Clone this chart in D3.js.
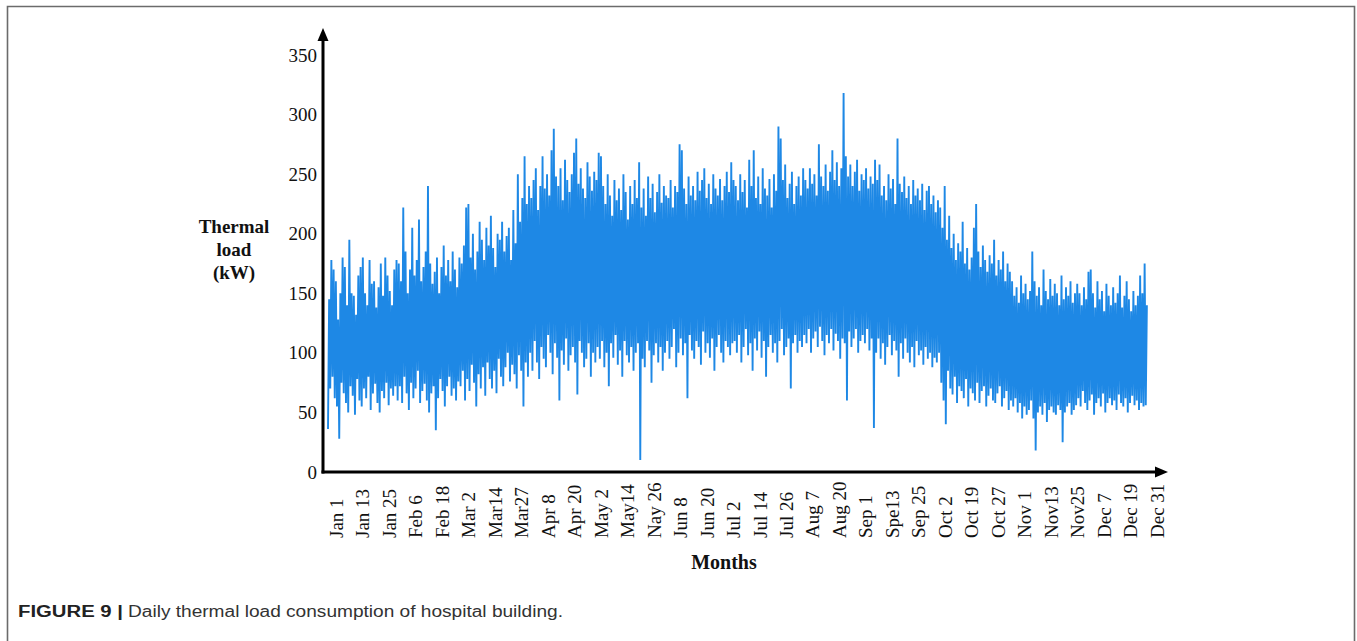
<!DOCTYPE html>
<html>
<head>
<meta charset="utf-8">
<script src="https://cdn.jsdelivr.net/npm/d3@7"></script>
<style>
  html, body { margin: 0; padding: 0; background: #fff; }
  svg { display: block; }
</style>
</head>
<body>
<svg id="chart" width="1357" height="641"></svg>
<script>
// Daily peak and trough of the hospital thermal load (kW), one entry per day, Jan 1 .. Dec 31
const dailyHigh = [
  // Jan
  145,178,170,160,128,150,180,172,140,195,150,148,132,165,172,180,150,140,178,158,160,138,155,175,148,180,165,152,140,170,178,
  // Feb
  175,160,222,185,150,170,205,165,178,212,160,172,185,240,175,158,168,180,150,172,190,165,178,160,185,170,155,180,
  // Mar
  175,190,222,225,180,200,170,185,210,195,178,205,190,215,188,172,200,195,210,185,198,205,178,220,192,250,210,230,265,225,240,
  // Apr
  230,245,255,220,240,265,238,250,232,270,288,248,240,255,228,262,245,235,250,268,280,242,255,238,230,260,248,236,252,245,
  // May
  268,265,240,225,250,232,215,245,228,238,220,250,235,212,240,225,245,230,260,222,238,215,248,230,242,218,235,250,226,240,232,
  // Jun
  230,245,222,240,235,275,270,238,225,248,232,240,228,252,236,245,255,230,242,225,250,238,232,246,228,240,252,235,260,245,
  // Jul
  240,228,250,235,245,222,262,240,270,230,248,225,255,238,232,246,222,250,236,290,280,245,258,230,242,252,225,240,248,232,255,
  // Aug
  245,238,255,242,250,232,275,248,240,258,236,252,270,245,260,240,255,318,265,248,258,240,252,262,236,250,245,255,238,248,242,
  // Sep
  262,245,258,232,240,228,250,238,246,225,280,242,235,248,230,240,225,245,232,238,228,242,220,236,240,225,232,218,228,222,
  // Oct
  205,240,195,215,188,200,178,192,185,210,175,188,170,180,205,225,185,172,190,178,168,182,175,195,165,178,170,185,160,175,168,
  // Nov
  160,148,155,142,165,150,158,145,152,185,160,148,155,140,170,152,145,162,148,158,150,140,165,145,155,148,160,142,150,158,
  // Dec
  150,140,155,145,168,170,150,138,160,145,152,135,158,148,140,155,142,150,165,138,148,160,145,135,152,140,148,165,150,175,140
];

const dailyLow = [
  // Jan
  36,70,80,62,55,28,75,66,58,50,72,64,48,78,60,55,70,62,80,52,66,74,58,50,68,62,75,56,70,64,72,
  // Feb
  60,72,58,80,66,52,75,62,70,85,58,68,74,60,50,66,72,35,62,78,68,55,72,80,64,70,60,76,
  // Mar
  72,85,60,78,68,90,75,55,82,70,88,64,92,78,70,85,66,95,80,72,88,100,76,90,82,70,98,85,55,92,80,
  // Apr
  100,85,110,92,78,105,95,88,115,100,82,108,96,60,102,90,112,85,98,105,92,65,110,100,88,95,108,80,100,92,
  // May
  105,95,110,88,100,72,108,96,115,90,102,80,110,98,92,105,85,100,108,10,95,88,110,102,75,98,108,92,105,85,100,
  // Jun
  110,95,105,120,88,100,112,98,108,62,115,102,95,110,105,90,118,100,108,96,112,85,105,115,100,92,110,105,98,108,
  // Jul
  110,100,115,92,105,120,98,108,85,112,102,118,96,110,80,105,115,100,108,92,110,120,98,105,112,70,108,115,100,110,105,
  // Aug
  115,108,120,100,112,118,105,122,110,98,115,108,120,102,116,110,95,112,108,60,118,105,112,120,100,110,115,108,120,102,112,
  // Sep
  37,100,112,95,108,90,105,115,98,110,102,80,108,95,112,100,92,105,88,110,98,102,90,105,95,100,88,96,92,100,
  // Oct
  75,60,40,85,70,65,80,58,72,68,62,78,55,70,66,60,75,58,68,72,55,64,70,60,58,66,72,55,62,68,52,
  // Nov
  60,55,62,50,58,45,55,48,52,60,45,18,50,55,48,58,42,52,55,50,48,56,52,25,50,55,58,48,52,56,
  // Dec
  62,55,68,58,52,60,65,48,58,62,55,66,50,58,62,56,60,52,65,58,55,62,50,58,64,56,60,52,58,55,56
];

const dateLabels = [
  "Jan 1","Jan 13","Jan 25","Feb 6","Feb 18","Mar 2","Mar14","Mar27","Apr 8","Apr 20",
  "May 2","May14","Nay 26","Jun 8","Jun 20","Jul 2","Jul 14","Jul 26","Aug 7","Aug 20",
  "Sep 1","Spe13","Sep 25","Oct 2","Oct 19","Oct 27","Nov 1","Nov13","Nov25","Dec 7",
  "Dec 19","Dec 31"
];

const loadTicks = [0, 50, 100, 150, 200, 250, 300, 350];

const svg = d3.select("#chart");
const serif = "'Liberation Serif', 'Times New Roman', serif";
const sans = "'Liberation Sans', Arial, sans-serif";

// Outer figure frame
svg.append("path")
  .attr("d", "M7.5,641 V6.5 H1354.5 V641")
  .attr("fill", "none")
  .attr("stroke", "#6b6b6b")
  .attr("stroke-width", 1.6);

// Scales
const originX = 323, originY = 472;
const x = d3.scaleLinear().domain([0, dailyHigh.length]).range([328, 1148]);
const y = d3.scaleLinear().domain([0, 350]).range([originY, 55]);
const xLabels = d3.scalePoint().domain(dateLabels).range([336, 1157]);

// Alternating trough / peak for each day traces the daily swing
const points = [];
dailyHigh.forEach((h, i) => {
  points.push([i, dailyLow[i]]);
  points.push([i + 0.5, h]);
});

svg.append("path")
  .datum(points)
  .attr("fill", "none")
  .attr("stroke", "#1e88e5")
  .attr("stroke-width", 1.9)
  .attr("stroke-linejoin", "bevel")
  .attr("d", d3.line().x(d => x(d[0])).y(d => y(d[1])));

// Y tick labels
const yAxis = svg.append("g")
  .attr("transform", `translate(${originX - 1},0)`)
  .call(d3.axisLeft(y).tickValues(loadTicks).tickSize(0).tickPadding(5));
yAxis.select(".domain").remove();
yAxis.selectAll("text")
  .attr("font-family", serif)
  .attr("font-size", 19)
  .attr("fill", "#111");

// X date labels, rotated
const xAxis = svg.append("g")
  .attr("transform", `translate(0,${originY})`)
  .call(d3.axisBottom(xLabels).tickSize(0));
xAxis.select(".domain").remove();
xAxis.selectAll("text")
  .attr("transform", "rotate(-90)")
  .attr("x", -66)
  .attr("y", 0)
  .attr("dy", "0.33em")
  .attr("text-anchor", "start")
  .attr("font-family", serif)
  .attr("font-size", 19)
  .attr("fill", "#111");

// Axis lines with arrow heads
const axisColor = "#000";
svg.append("path")
  .attr("d", `M${originX},${originY + 1.5} V38`)
  .attr("stroke", axisColor).attr("stroke-width", 3).attr("fill", "none");
svg.append("path")
  .attr("d", `M${originX - 5.5},41 L${originX},28 L${originX + 5.5},41 Z`)
  .attr("fill", axisColor);
svg.append("path")
  .attr("d", `M${originX - 1.5},${originY} H1158`)
  .attr("stroke", axisColor).attr("stroke-width", 3).attr("fill", "none");
svg.append("path")
  .attr("d", `M1155,${originY - 5.5} L1168,${originY} L1155,${originY + 5.5} Z`)
  .attr("fill", axisColor);

// Axis titles
const yTitle = svg.append("text")
  .attr("font-family", serif)
  .attr("font-size", 19)
  .attr("font-weight", "bold")
  .attr("text-anchor", "middle")
  .attr("fill", "#111");
[["Thermal", 233], ["load", 256], ["(kW)", 279]].forEach(([t, yy]) => {
  yTitle.append("tspan").attr("x", 234).attr("y", yy).text(t);
});

svg.append("text")
  .attr("x", 724).attr("y", 569)
  .attr("font-family", serif)
  .attr("font-size", 20)
  .attr("font-weight", "bold")
  .attr("text-anchor", "middle")
  .attr("fill", "#111")
  .text("Months");

// Caption
svg.append("text")
  .attr("x", 18).attr("y", 617)
  .attr("font-family", sans)
  .attr("font-size", 16)
  .attr("font-weight", "bold")
  .attr("fill", "#222")
  .attr("textLength", 105)
  .attr("lengthAdjust", "spacingAndGlyphs")
  .text("FIGURE 9 |");
svg.append("text")
  .attr("x", 128).attr("y", 617)
  .attr("font-family", sans)
  .attr("font-size", 16)
  .attr("fill", "#333")
  .attr("textLength", 435)
  .attr("lengthAdjust", "spacingAndGlyphs")
  .text("Daily thermal load consumption of hospital building.");
</script>
</body>
</html>
